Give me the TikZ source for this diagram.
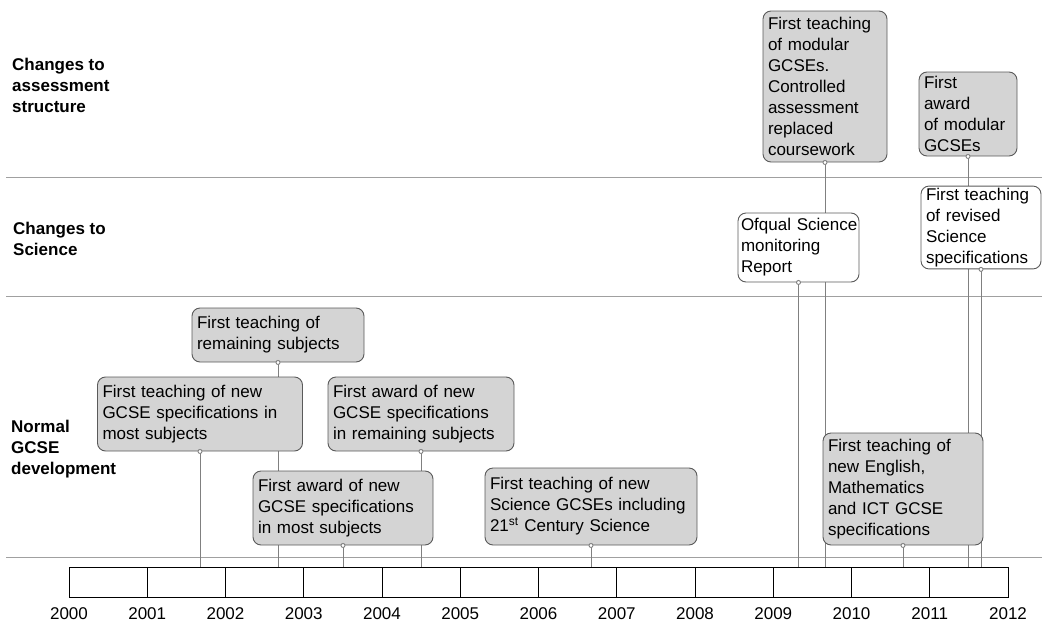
\documentclass[tikz,border=0pt]{standalone}
\usepackage{fontspec}
\setmainfont{Liberation Sans}
\definecolor{boxfill}{HTML}{D4D4D4}
\definecolor{boxline}{HTML}{5A5A5A}
\definecolor{stemgray}{HTML}{808080}
\definecolor{sepgray}{HTML}{A0A0A0}
\pgfdeclarelayer{back}
\pgfsetlayers{back,main}
\tikzset{
  ev/.style={draw=boxline, fill=boxfill, line width=0.9pt, rounded corners=8pt, align=left,
    inner xsep=5pt, inner ysep=2pt, font=\fontsize{17}{21}\selectfont},
  evw/.style={ev, fill=white},
  stemline/.style={draw=stemgray, line width=0.9pt},
  sepline/.style={draw=sepgray, line width=0.9pt},
  rowlab/.style={anchor=west, align=left, inner sep=0pt, font=\bfseries\fontsize{17}{21}\selectfont},
  yearlab/.style={inner sep=0pt, font=\fontsize{17}{21}\selectfont},
}
\def\pinline#1{\draw[stemline] (#1.south) -- (#1.south |- bar.north);}
\def\pindot#1{\filldraw[stemline, fill=white] (#1.south) circle (2pt);}

\begin{document}
\begin{tikzpicture}[x=1pt,y=-1pt]
\useasboundingbox (0,0) rectangle (1042,627);
\node[rowlab] (lassess) at (12,85) {Changes to\\assessment\\structure};
\node[rowlab] (lsci) at (13,238.5) {Changes to\\Science};
\node[rowlab] (lgcse) at (11,449.5) {Normal\\GCSE\\development};

\node[draw, line width=0.9pt, minimum width=939pt, minimum height=30pt, inner sep=0pt, anchor=north west] (bar) at (69,567) {};
\foreach \i in {1,...,11}
  \draw[line width=0.9pt] (69+\i*78.25,567) -- (69+\i*78.25,597);
\foreach \i in {0,...,12}{
  \pgfmathtruncatemacro\yr{2000+\i}
  \node[yearlab] (yr\i) at (69+\i*78.25,614) {\yr};
}

\node[ev, text width=195pt, minimum height=74pt] (tnew) at (200,414) {First teaching of new\\GCSE specifications in\\most subjects};
\node[ev, text width=162pt, minimum height=54pt] (trem) at (278,335) {First teaching of\\remaining subjects};
\node[ev, text width=170pt, minimum height=74pt] (amost) at (343,508) {First award of new\\GCSE specifications\\in most subjects};
\node[ev, text width=176pt, minimum height=74pt] (arem) at (421,414) {First award of new\\GCSE specifications\\in remaining subjects};
\node[ev, text width=202pt, minimum height=77pt] (tsci) at (591,506.5) {First teaching of new\\Science GCSEs including\\21\textsuperscript{st} Century Science};
\node[ev, text width=150pt, minimum height=112pt] (teng) at (903,489) {First teaching of\\new English,\\Mathematics\\and ICT GCSE\\specifications};
\node[ev, text width=114pt, minimum height=151pt] (tmod) at (825,86.5) {First teaching\\of modular\\GCSEs.\\Controlled\\assessment\\replaced\\coursework};
\node[ev, text width=88pt, minimum height=84pt] (amod) at (968,114) {First\\award\\of modular\\GCSEs};
\node[evw, inner xsep=3pt, text width=115pt, minimum height=69pt] (ofq) at (798.5,247.5) {\mbox{Ofqual Science}\\monitoring\\Report};
\node[evw, text width=110pt, minimum height=79pt] (rsci) at (981,227.5) {First teaching\\of revised\\Science\\specifications};

\begin{pgfonlayer}{back}
\draw[sepline] (6,177) -- (1042,177);
\draw[sepline] (6,296) -- (1042,296);
\draw[sepline] (6,557) -- (1042,557);
\foreach \ev in {tnew,trem,amost,arem,tsci,teng,tmod,amod,ofq,rsci}{
  \pinline{\ev}
}
\end{pgfonlayer}
\foreach \ev in {tnew,trem,amost,arem,tsci,teng,tmod,amod,ofq,rsci}{
  \pindot{\ev}
}
\end{tikzpicture}
\end{document}
